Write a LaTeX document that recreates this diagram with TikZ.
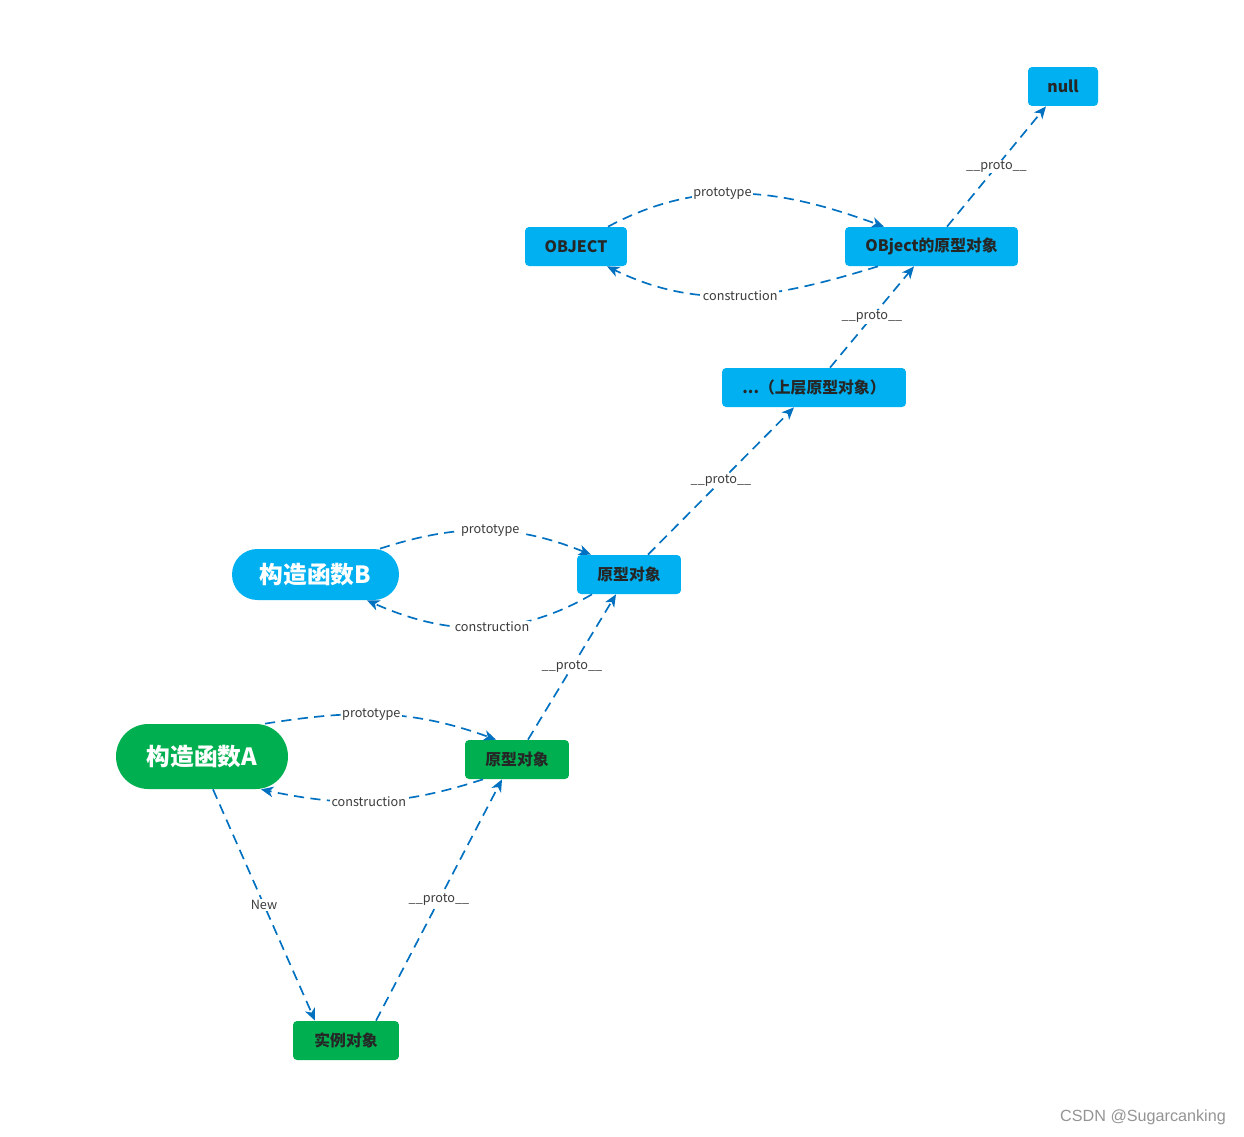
\documentclass[tikz,border=0pt]{standalone}
\usepackage{fontspec}
\setmainfont{Noto Sans CJK SC}
\newfontfamily\wmfont{Liberation Sans}
\usetikzlibrary{arrows.meta,calc}
\definecolor{boxblue}{HTML}{00B0F0}
\definecolor{boxgreen}{HTML}{00B050}
\definecolor{linkblue}{HTML}{0070C0}
\definecolor{txtdark}{HTML}{262626}
\begin{document}
\begin{tikzpicture}[x=0.02cm,y=0.02cm,
  box/.style={rectangle,rounded corners=2.3pt,inner sep=0pt,text=txtdark,font=\bfseries\fontsize{9}{10}\selectfont,minimum height=0.78cm},
  bluebox/.style={box,fill=boxblue},
  greenbox/.style={box,fill=boxgreen},
  pill/.style={rectangle,inner sep=0pt,text=white,font=\bfseries\fontsize{13.5}{15}\selectfont},
  link/.style={draw=linkblue,line width=0.95pt,dash pattern=on 5.8pt off 3.6pt,-{Stealth[length=7pt,width=6pt,inset=2pt]}},
  lab/.style={fill=white,inner sep=0.6pt,text=txtdark!90,font=\fontsize{7.2}{8}\selectfont}
]
\useasboundingbox (0,0) rectangle (1244,-1136);

\node[bluebox,minimum width=1.4cm] (null) at (1063,-86.5) {null};
\node[bluebox,minimum width=2.04cm] (OBJ) at (576,-246.5) {OBJECT};
\node[bluebox,minimum width=3.46cm] (OP) at (931.5,-246.5) {OBject的原型对象};
\node[bluebox,minimum width=3.68cm] (UP) at (814,-387.5) {...（上层原型对象）};
\node[pill,fill=boxblue,rounded corners=14.4pt,minimum width=3.34cm,minimum height=1.02cm] (B) at (315.5,-574.5) {构造函数B};
\node[bluebox,minimum width=2.08cm] (BP) at (629,-574.5) {原型对象};
\node[pill,fill=boxgreen,rounded corners=18.4pt,minimum width=3.44cm,minimum height=1.3cm] (A) at (202,-756.5) {构造函数A};
\node[greenbox,minimum width=2.08cm] (AP) at (517,-759.5) {原型对象};
\node[greenbox,minimum width=2.12cm] (I) at (346,-1040.5) {实例对象};

% top group
\draw[link] ($(OBJ.north)+(32,0)$) to[out=28,in=160] node[lab,pos=0.42] {prototype} ($(OP.north)+(-47.5,0)$);
\draw[link] ($(OP.south)+(-53.5,0)$) to[out=-163,in=-26] node[lab,pos=0.5] {construction} ($(OBJ.south)+(31,0)$);
\draw[link] ($(OP.north)+(15.5,0)$) -- node[lab] {\_\_proto\_\_} ($(null.south)+(-17,0)$);
\draw[link] ($(UP.north)+(16,0)$) -- node[lab] {\_\_proto\_\_} ($(OP.south)+(-17.5,0)$);
\draw[link] ($(BP.north)+(19,0)$) -- node[lab] {\_\_proto\_\_} ($(UP.south)+(-20,0)$);

% B group
\draw[link] ($(B.north)+(64.5,0)$) to[out=18,in=158] node[lab,pos=0.52] {prototype} ($(BP.north)+(-38,0)$);
\draw[link] ($(BP.south)+(-37,0)$) to[out=-150,in=-24] node[lab,pos=0.45] {construction} ($(B.south)+(51.5,0)$);
\draw[link] ($(AP.north)+(11,0)$) -- node[lab] {\_\_proto\_\_} ($(BP.south)+(-13,0)$);

% A group
\draw[link] ($(A.north)+(63,0)$) to[out=9,in=160] node[lab,pos=0.45] {prototype} ($(AP.north)+(-21,0)$);
\draw[link] ($(AP.south)+(-34,0)$) to[out=-162,in=-12] node[lab,pos=0.52] {construction} ($(A.south)+(59,0)$);
\draw[link] ($(A.south)+(11,0)$) -- node[lab] {New} ($(I.north)+(-31,0)$);
\draw[link] ($(I.north)+(30,0)$) -- node[lab] {\_\_proto\_\_} ($(AP.south)+(-15,0)$);

\node[text=black!42,font=\wmfont\fontsize{9.2}{10}\selectfont,inner sep=0pt] (wm) at (1143,-1117) {CSDN @Sugarcanking};
\end{tikzpicture}
\end{document}
